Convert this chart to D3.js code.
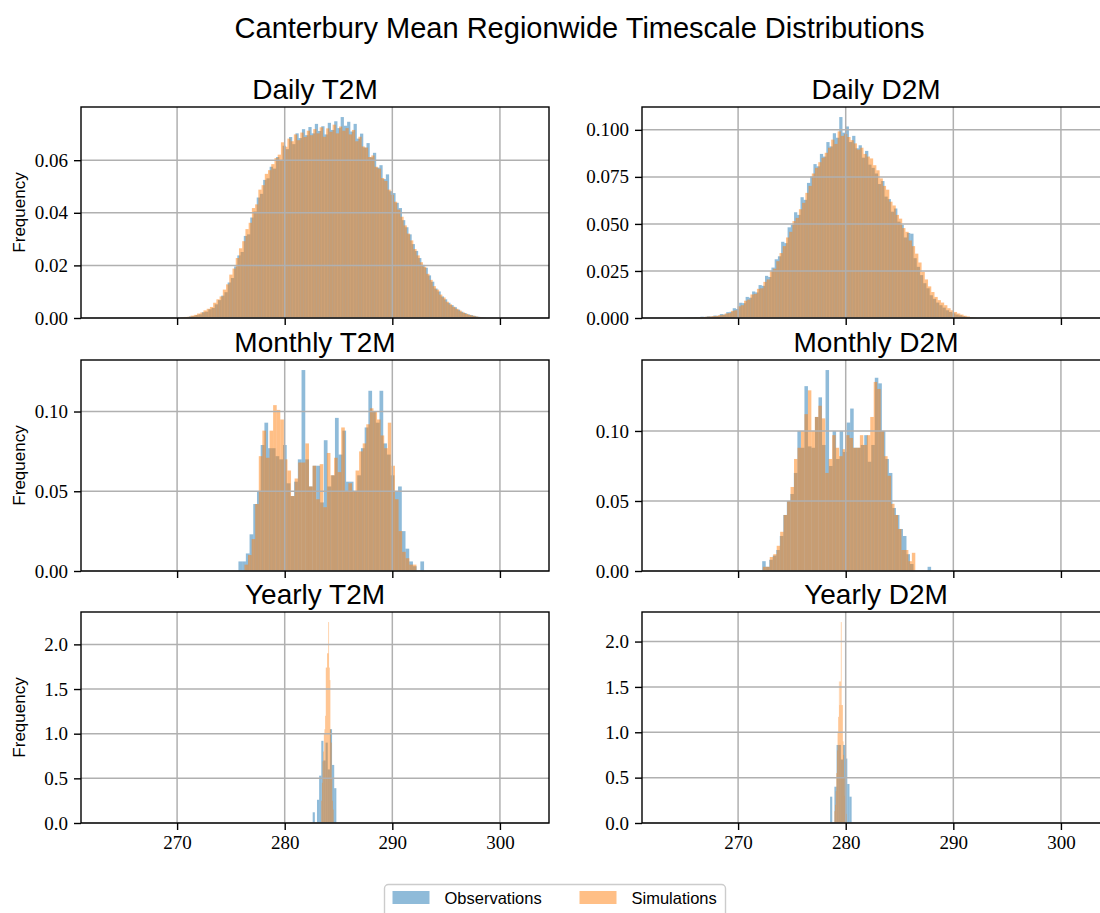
<!DOCTYPE html>
<html>
<head>
<meta charset="utf-8">
<script src="https://cdn.jsdelivr.net/npm/d3@7"></script>
<style>
  body { margin: 0; background: #fff; }
  svg { display: block; }
</style>
</head>
<body>
<div id="chart"></div>
<script>
// shared x range (K) and ticks
const xDomain = [261.07, 304.56];
const xTicks = [270, 280, 290, 300];
const seriesNames = ['Observations', 'Simulations'];
const seriesColors = ['#1f77b4', '#ff7f0e'];
const panelTitles = ['Daily T2M', 'Daily D2M', 'Monthly T2M', 'Monthly D2M', 'Yearly T2M', 'Yearly D2M'];
const yTickValues = [
  [0, 0.02, 0.04, 0.06],
  [0, 0.025, 0.05, 0.075, 0.1],
  [0, 0.05, 0.1],
  [0, 0.05, 0.1],
  [0, 0.5, 1, 1.5, 2],
  [0, 0.5, 1, 1.5, 2]
];
const yTickFormats = ['.2f', '.3f', '.2f', '.2f', '.1f', '.1f'];

// bins: [first edge, bin width]
const dailyT2MObsBins = [270.5, 0.3];
const dailyT2MSimBins = [270.35, 0.3];
const dailyD2MObsBins = [265.0, 0.3];
const dailyD2MSimBins = [265.15, 0.3];
const monthlyT2MObsBins = [275.7, 0.345];
const monthlyT2MSimBins = [276.26, 0.333];
const monthlyD2MObsBins = [272.24, 0.327];
const monthlyD2MSimBins = [272.3, 0.322];
const yearlyT2MObsBins = [282.6, 0.2];
const yearlyT2MSimBins = [283.4, 0.06];
const yearlyD2MObsBins = [278.55, 0.2];
const yearlyD2MSimBins = [278.95, 0.06];

// frequencies
const dailyT2MObs = [0.0002,0.0003,0.0006,0.0007,0.0011,0.0014,0.0022,0.0024,0.0033,0.0038,
  0.0052,0.0068,0.0085,0.0098,0.0135,0.0152,0.0196,0.0238,0.0251,0.0312,
  0.0318,0.0382,0.0405,0.0458,0.0472,0.0525,0.0531,0.0575,0.0568,0.0612,
  0.0598,0.0655,0.0642,0.0688,0.0661,0.0702,0.0684,0.0718,0.0695,0.0726,
  0.0702,0.0738,0.0711,0.0729,0.0698,0.0742,0.0715,0.0748,0.0722,0.0764,
  0.0731,0.0746,0.0709,0.0738,0.0682,0.0701,0.0648,0.0665,0.0611,0.0628,
  0.0572,0.0581,0.0528,0.0546,0.0482,0.0475,0.0438,0.0418,0.0372,0.0345,
  0.0318,0.0281,0.0255,0.0228,0.0202,0.0191,0.0162,0.0138,0.0112,0.0101,
  0.0082,0.0071,0.0058,0.0049,0.0041,0.0032,0.0024,0.0019,0.0014,0.0011,
  0.0008,0.0005,0.0003,0.0002];
const dailyT2MSim = [0.0003,0.0004,0.0005,0.0009,0.0012,0.0017,0.0021,0.0029,0.0035,0.0042,
  0.0058,0.0071,0.0082,0.0108,0.0128,0.0165,0.0188,0.0228,0.0265,0.0292,
  0.0338,0.0362,0.0418,0.0432,0.0488,0.0505,0.0548,0.0562,0.0585,0.0608,
  0.0621,0.0668,0.0651,0.0682,0.0672,0.0698,0.0676,0.0705,0.0688,0.0712,
  0.0695,0.0718,0.0702,0.0725,0.0689,0.0721,0.0708,0.0735,0.0702,0.0728,
  0.0712,0.0722,0.0698,0.0715,0.0672,0.0689,0.0652,0.0648,0.0612,0.0618,
  0.0575,0.0568,0.0532,0.0521,0.0488,0.0468,0.0442,0.0412,0.0385,0.0352,
  0.0321,0.0295,0.0262,0.0238,0.0212,0.0195,0.0168,0.0145,0.0121,0.0108,
  0.0089,0.0078,0.0062,0.0052,0.0043,0.0035,0.0028,0.0021,0.0016,0.0012,
  0.0009,0.0006,0.0004,0.0002];
const dailyD2MObs = [0.0002,0.0003,0.0003,0.0005,0.0004,0.0007,0.0006,0.0009,0.0008,0.0013,
  0.0012,0.0021,0.0019,0.0031,0.0033,0.0052,0.0048,0.0081,0.0079,0.0112,
  0.0108,0.0141,0.0136,0.0175,0.0171,0.0224,0.0218,0.0268,0.0312,0.0328,
  0.0405,0.0398,0.0482,0.0495,0.0562,0.0548,0.0642,0.0628,0.0718,0.0752,
  0.0818,0.0806,0.0872,0.0858,0.0935,0.0912,0.0982,0.0958,0.1068,0.0985,
  0.1018,0.0935,0.0968,0.0902,0.0918,0.0852,0.0888,0.0815,0.0798,0.0768,
  0.0712,0.0728,0.0645,0.0632,0.0565,0.0582,0.0512,0.0495,0.0428,0.0452,
  0.0448,0.0318,0.0272,0.0228,0.0185,0.0158,0.0121,0.0102,0.0082,0.0068,
  0.0055,0.0041,0.0032,0.0025,0.0018,0.0014,0.0009,0.0006,0.0004,0.0002];
const dailyD2MSim = [0.0001,0.0002,0.0002,0.0004,0.0005,0.0005,0.0007,0.0008,0.0010,0.0011,
  0.0015,0.0017,0.0024,0.0026,0.0038,0.0041,0.0062,0.0068,0.0092,0.0098,
  0.0125,0.0128,0.0155,0.0158,0.0192,0.0205,0.0248,0.0262,0.0302,0.0345,
  0.0382,0.0428,0.0458,0.0515,0.0532,0.0578,0.0612,0.0665,0.0702,0.0768,
  0.0798,0.0828,0.0852,0.0878,0.0905,0.0948,0.0925,0.0992,0.0968,0.0978,
  0.0962,0.0945,0.0928,0.0895,0.0905,0.0872,0.0858,0.0848,0.0812,0.0785,
  0.0742,0.0702,0.0682,0.0618,0.0598,0.0548,0.0528,0.0478,0.0458,0.0412,
  0.0382,0.0342,0.0295,0.0245,0.0205,0.0168,0.0138,0.0112,0.0095,0.0082,
  0.0068,0.0052,0.0041,0.0032,0.0024,0.0018,0.0012,0.0008,0.0005,0.0003];
const monthlyT2MObs = [0.006,0.006,0.011,0.023,0.042,0.05,0.079,0.093,0.077,0.077,
  0.072,0.07,0.079,0.055,0.047,0.056,0.07,0.126,0.07,0.053,
  0.066,0.066,0.043,0.082,0.053,0.06,0.096,0.073,0.088,0.056,
  0.056,0.05,0.06,0.077,0.09,0.113,0.1,0.093,0.113,0.08,
  0.073,0.06,0.05,0.053,0.025,0.014,0.006,0.003,0,0.006];
const monthlyT2MSim = [0.004,0.01,0.02,0.042,0.072,0.088,0.071,0.088,0.104,0.101,
  0.095,0.07,0.063,0.047,0.058,0.068,0.068,0.08,0.053,0.066,
  0.045,0.067,0.04,0.074,0.06,0.071,0.062,0.09,0.05,0.055,
  0.05,0.063,0.075,0.08,0.092,0.102,0.1,0.095,0.085,0.077,
  0.093,0.066,0.045,0.025,0.012,0.008,0.004,0.004];
const monthlyD2MObs = [0.007,0.003,0.008,0.011,0.015,0.025,0.04,0.05,0.055,0.07,
  0.1,0.088,0.132,0.089,0.088,0.11,0.124,0.09,0.1435,0.075,
  0.1,0.08,0.1,0.085,0.106,0.116,0.088,0.088,0.09,0.097,
  0.078,0.09,0.138,0.134,0.1,0.08,0.07,0.045,0.04,0.03,
  0.025,0.012,0.005,0,0,0,0,0.003];
const monthlyD2MSim = [0.003,0.003,0.01,0.012,0.018,0.028,0.04,0.05,0.06,0.08,
  0.088,0.1,0.112,0.129,0.1,0.11,0.118,0.109,0.07,0.08,
  0.097,0.088,0.082,0.087,0.097,0.095,0.088,0.088,0.097,0.09,
  0.097,0.11,0.135,0.13,0.1,0.082,0.068,0.048,0.04,0.03,
  0.015,0.015,0.007,0.013];
const yearlyT2MObs = [0.12,0,0.26,0.53,0.92,0.7,0.9,0.6,1.05,0.65,0.39];
const yearlyT2MSim = [0.25,0.45,0.69,0.8,1.0,1.05,1.2,1.74,1.74,1.9,
  1.9,2.25,1.74,1.6,1.05,0.9,0.5,0.25,0.15];
const yearlyD2MObs = [0.29,0,0.4,0.86,0.86,0.7,0.86,0.71,0.43,0.29];
const yearlyD2MSim = [0.13,0.2,0.35,0.55,0.8,1.0,1.17,1.56,1.3,1.56,
  2.215,1.3,1.3,0.9,0.75,0.5,0.3,0.2,0.1];

const panelSeries = [
  [[dailyT2MObsBins, dailyT2MObs], [dailyT2MSimBins, dailyT2MSim]],
  [[dailyD2MObsBins, dailyD2MObs], [dailyD2MSimBins, dailyD2MSim]],
  [[monthlyT2MObsBins, monthlyT2MObs], [monthlyT2MSimBins, monthlyT2MSim]],
  [[monthlyD2MObsBins, monthlyD2MObs], [monthlyD2MSimBins, monthlyD2MSim]],
  [[yearlyT2MObsBins, yearlyT2MObs], [yearlyT2MSimBins, yearlyT2MSim]],
  [[yearlyD2MObsBins, yearlyD2MObs], [yearlyD2MSimBins, yearlyD2MSim]]
];

const W = 1100, H = 913;
const colX = [81, 642];
const rowY = [107, 360, 612];
const pw = 468, ph = 211;
const serif = "'Liberation Serif', 'DejaVu Serif', serif";
const sans = "'Liberation Sans', 'DejaVu Sans', sans-serif";

const svg = d3.select('#chart').append('svg')
  .attr('width', W)
  .attr('height', H);

svg.append('text')
  .attr('x', 579.5)
  .attr('y', 38)
  .attr('text-anchor', 'middle')
  .style('font-family', sans)
  .style('font-size', '29px')
  .text('Canterbury Mean Regionwide Timescale Distributions');

const x = d3.scaleLinear().domain(xDomain).range([0, pw]);

panelSeries.forEach((series, i) => {
  const row = Math.floor(i / 2), col = i % 2;
  const g = svg.append('g')
    .attr('transform', `translate(${colX[col]},${rowY[row]})`);

  const ymax = d3.max(series, s => d3.max(s[1])) * 1.05;
  const y = d3.scaleLinear().domain([0, ymax]).range([ph, 0]);

  g.append('clipPath').attr('id', `clip${i}`)
    .append('rect').attr('width', pw).attr('height', ph);

  const bars = g.append('g').attr('clip-path', `url(#clip${i})`);
  series.forEach((s, k) => {
    const [edge, w] = s[0];
    bars.append('g')
      .selectAll('rect')
      .data(s[1])
      .join('rect')
      .attr('x', (d, j) => x(edge + j * w))
      .attr('width', (d, j) => x(edge + (j + 1) * w) - x(edge + j * w))
      .attr('y', d => y(d))
      .attr('height', d => ph - y(d))
      .attr('fill', seriesColors[k])
      .attr('fill-opacity', 0.5);
  });

  // grid sits above the bars, like matplotlib's default
  const grid = g.append('g')
    .attr('stroke', '#b0b0b0')
    .attr('stroke-width', 1.5);
  grid.selectAll('.vx').data(xTicks).join('line')
    .attr('x1', d => x(d)).attr('x2', d => x(d))
    .attr('y1', 0).attr('y2', ph);
  grid.selectAll('.hy').data(yTickValues[i]).join('line')
    .attr('x1', 0).attr('x2', pw)
    .attr('y1', d => y(d)).attr('y2', d => y(d));

  const xAxis = d3.axisBottom(x)
    .tickValues(xTicks)
    .tickSize(7)
    .tickPadding(6)
    .tickFormat(row === 2 ? d3.format('d') : () => '');
  const gx = g.append('g')
    .attr('transform', `translate(0,${ph})`)
    .call(xAxis);
  gx.select('.domain').remove();
  gx.selectAll('line').attr('stroke-width', 1.4);
  gx.selectAll('text')
    .style('font-family', serif)
    .style('font-size', '19px')
    .attr('fill', '#000');

  const yAxis = d3.axisLeft(y)
    .tickValues(yTickValues[i])
    .tickSize(7)
    .tickPadding(6)
    .tickFormat(d3.format(yTickFormats[i]));
  const gy = g.append('g').call(yAxis);
  gy.select('.domain').remove();
  gy.selectAll('line').attr('stroke-width', 1.4);
  gy.selectAll('text')
    .style('font-family', serif)
    .style('font-size', '19px')
    .attr('fill', '#000');

  g.append('rect')
    .attr('width', pw)
    .attr('height', ph)
    .attr('fill', 'none')
    .attr('stroke', '#000')
    .attr('stroke-width', 1.4);

  g.append('text')
    .attr('x', pw / 2)
    .attr('y', -8)
    .attr('text-anchor', 'middle')
    .style('font-family', sans)
    .style('font-size', '28px')
    .text(panelTitles[i]);

  if (col === 0) {
    g.append('text')
      .attr('transform', `translate(${19 - colX[0]},${ph / 2}) rotate(-90)`)
      .attr('text-anchor', 'middle')
      .attr('dy', '0.35em')
      .style('font-family', sans)
      .style('font-size', '17px')
      .text('Frequency');
  }
});

// legend
const legend = svg.append('g').attr('transform', 'translate(384.5,884.5)');
legend.append('rect')
  .attr('width', 341)
  .attr('height', 40)
  .attr('rx', 4)
  .attr('fill', '#fff')
  .attr('stroke', '#cccccc')
  .attr('stroke-width', 1.4);
const legendX = [8, 195];
seriesNames.forEach((name, k) => {
  legend.append('rect')
    .attr('x', legendX[k])
    .attr('y', 6.5)
    .attr('width', 37)
    .attr('height', 13)
    .attr('fill', seriesColors[k])
    .attr('fill-opacity', 0.5);
  legend.append('text')
    .attr('x', legendX[k] + 52)
    .attr('y', 19)
    .style('font-family', sans)
    .style('font-size', '16.5px')
    .text(name);
});
</script>
</body>
</html>
